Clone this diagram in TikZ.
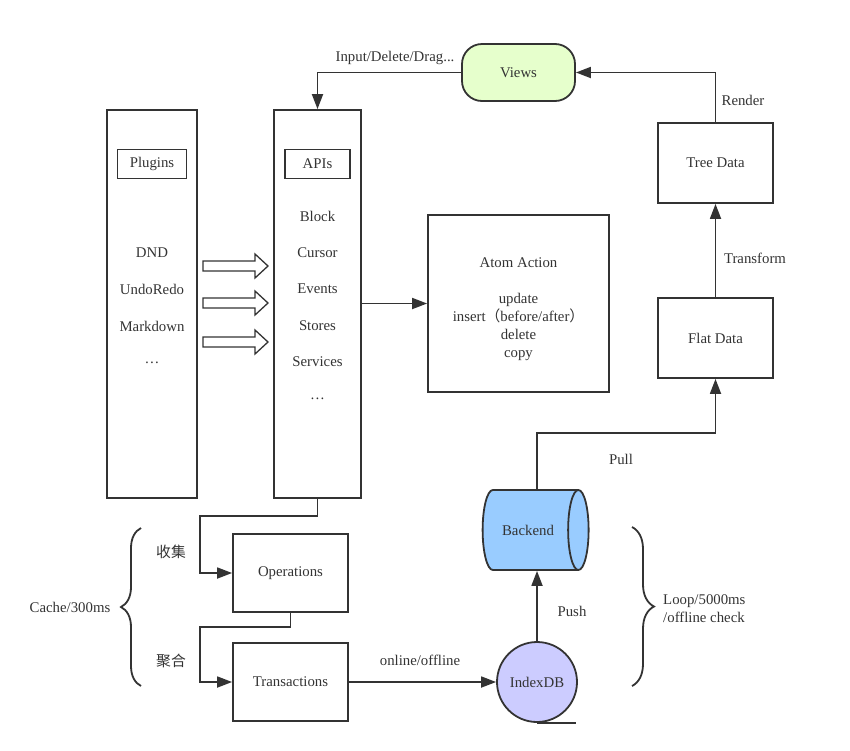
\documentclass[tikz,border=0pt]{standalone}
\usepackage{fontspec}
\setmainfont{Liberation Serif}
\newfontfamily\cjk{Noto Sans CJK SC}
\usepackage{xcolor}
\usepackage{tikz}
\usetikzlibrary{arrows.meta,shapes.geometric,decorations.pathreplacing}

\definecolor{linegray}{HTML}{333333}
\definecolor{viewgreen}{HTML}{E6FFCC}
\definecolor{backblue}{HTML}{99CCFF}
\definecolor{idxpurple}{HTML}{CCCCFF}

\begin{document}
\begin{tikzpicture}[x=1pt,y=-1pt,color=linegray,line width=1.8pt,
    font=\fontsize{14.8}{18}\selectfont,
    box/.style={draw,rectangle,inner sep=2pt},
    conn/.style={-{Triangle[length=15pt,width=11pt]}}]
          \useasboundingbox (0,0) rectangle (850,750);

          % left columns
          \node[box, minimum width=90pt, minimum height=388pt] (plugins) at (152,304) {};
          \node[box, minimum width=69pt, minimum height=29pt, line width=1.4pt] (pluginstitle) at (152,164) {Plugins};
          \foreach \t [count=\i] in {DND,UndoRedo,Markdown,\ldots}
            \node (plug\i) at (152,216.5+36.5*\i) {\t};

          \node[box, minimum width=87pt, minimum height=388pt] (apis) at (317.5,304) {};
          \node[box, minimum width=65pt, minimum height=29pt, line width=1.4pt] (apistitle) at (317.5,164) {APIs};
          \foreach \t [count=\i] in {Block,Cursor,Events,Stores,Services,\ldots}
            \node (api\i) at (317.5,179.5+36.5*\i) {\t};

          \foreach \y in {266,303,342}
            \draw[line width=1.3pt] (203,\y-5) -- (255,\y-5) -- (255,\y-12) -- (268,\y) -- (255,\y+12) -- (255,\y+5) -- (203,\y+5) -- cycle;

          \node[box, minimum width=181pt, minimum height=177pt] (atom) at (518.5,303.5) {};
          \node[align=center] (atomtext) at ([yshift=-6pt]atom.center)
            {Atom Action\\[18pt] update\\ insert{\cjk （}before/after{\cjk ）}\\ delete\\ copy};
          \draw[conn] (apis.east |- atom.west) -- (atom.west);

          % right side
          \node[draw, fill=viewgreen, rounded corners=20pt, minimum width=113pt, minimum height=57pt] (views) at (518.5,72.5) {Views};
          \node[box, minimum width=115pt, minimum height=80pt] (tree) at (715.5,163) {Tree Data};
          \node[box, minimum width=115pt, minimum height=80pt] (flat) at (715.5,338) {Flat Data};
          \node[cylinder, draw, fill=backblue, shape aspect=1.2, minimum width=80pt, minimum height=106pt] (backend) at (528,530) {Backend};
          \node[circle, draw, fill=idxpurple, minimum size=80pt] (indexdb) at (537,682) {IndexDB};
          \draw (indexdb.south) -- ++(39,0);

          \draw[conn] (views.west) -| (apis.north);
          \node at (395,58) {Input/Delete/Drag...};
          \draw[conn] (tree.north) |- (views.east);
          \node at (743,100) {Render};
          \draw[conn] (flat.north) -- (tree.south);
          \node at (755,258) {Transform};
          \draw[conn] (indexdb.north |- backend.north) -- (indexdb.north |- 0,433) -| (flat.south);
          \node at (621,459) {Pull};
          \draw[conn] (indexdb.north) -- (indexdb.north |- backend.south);
          \node at (572,611) {Push};

          % bottom left
          \node[box, minimum width=115pt, minimum height=78pt] (ops) at (290.5,573) {Operations};
          \node[box, minimum width=115pt, minimum height=78pt] (trans) at (290.5,682) {Transactions};
          \draw[conn] (apis.south) |- (200,516) |- (ops.west);
          \draw[conn] (ops.south) |- (200,627) |- (trans.west);
          \draw[conn] (trans.east) -- (indexdb.west);
          \node at (420,660) {online/offline};

          % braces
          \draw[decorate, decoration={brace, amplitude=20pt}] (141,686) -- (141,528);
          \node at (70,607) {Cache/300ms};
          \node at (171,552) {\cjk 收集};
          \node at (171,661) {\cjk 聚合};
          \draw[decorate, decoration={brace, amplitude=22pt}] (632,527) -- (632,686);
          \node[anchor=west, align=left] at (659,609) {Loop/5000ms\\/offline check};
        \end{tikzpicture}
\end{document}
